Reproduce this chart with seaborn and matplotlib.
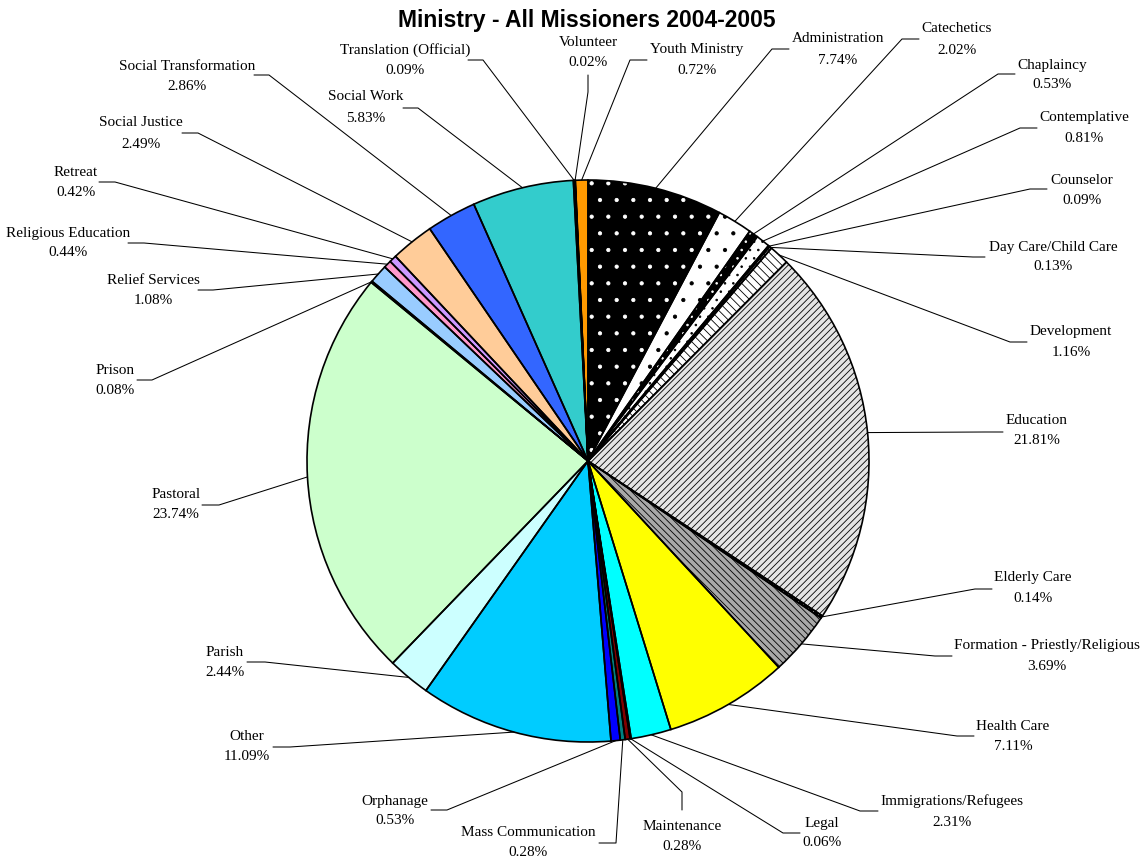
import seaborn as sns
import matplotlib
matplotlib.use("Agg")
import matplotlib.pyplot as plt
import numpy as np

# ministry categories and their share of all missioners (%)
categories = [
    "Administration", "Catechetics", "Chaplaincy", "Contemplative", "Counselor",
    "Day Care/Child Care", "Development", "Education", "Elderly Care",
    "Formation - Priestly/Religious", "Health Care", "Immigrations/Refugees",
    "Legal", "Maintenance", "Mass Communication", "Orphanage", "Other", "Parish",
    "Pastoral", "Prison", "Relief Services", "Religious Education", "Retreat",
    "Social Justice", "Social Transformation", "Social Work",
    "Translation (Official)", "Volunteer", "Youth Ministry",
]
shares = [
    7.74, 2.02, 0.53, 0.81, 0.09, 0.13, 1.16, 21.81, 0.14, 3.69, 7.11, 2.31,
    0.06, 0.28, 0.28, 0.53, 11.09, 2.44, 23.74, 0.08, 1.08, 0.44, 0.42, 2.49,
    2.86, 5.83, 0.09, 0.02, 0.72,
]
pct_labels = ["%.2f%%" % v for v in shares]

# fill styles (excel-like patterns for the first ten, palette colours after)
face_colors = [
    "black", "white", "black", "white", "white", "white", "white", "#e4e4e4",
    "black", "#a8a8a8", "#FFFF00", "#00FFFF", "#800080", "#800000", "#008080",
    "#0000FF", "#00CCFF", "#CCFFFF", "#CCFFCC", "#FFFF99", "#99CCFF",
    "#FF99CC", "#CC99FF", "#FFCC99", "#3366FF", "#33CCCC", "#99CC00",
    "#FFCC00", "#FF9900",
]
hatches = [".", ".", "..", "..", "....", "||||", "\\\\\\\\", "/////", "////", "\\\\\\\\\\"] + [None] * 19
hatch_colors = ["white", "black", "white", "black", "black", "black", "black",
                "black", "white", "black"] + ["none"] * 19

# label layout in pixels: (x, y of name line, y of percent line)
label_pos = [
    (838, 39, 60), (957, 29, 50), (1052, 65, 85), (1084, 118, 138),
    (1082, 180, 200), (1053, 247, 267), (1071, 332, 352), (1037, 420, 440),
    (1033, 578, 599), (1047, 645, 666), (1013, 726, 746), (952, 801, 822),
    (822, 823, 843), (682, 826, 846), (528, 833, 853), (395, 801, 820),
    (247, 737, 757), (225, 652, 672), (176, 495, 515), (115, 370, 390),
    (153, 280, 301), (68, 233, 253), (76, 172, 192), (141, 123, 144),
    (187, 66, 86), (366, 97, 118), (405, 50, 71), (588, 42, 62), (697, 50, 70),
]
# leader elbow in pixels: (x0, y0) near the pie -> (x1, y1) at the label
elbows = [
    (772, 49, 789, 49), (902, 39, 919, 39), (998, 74, 1015, 74),
    (1020, 128, 1037, 128), (1030, 189, 1047, 189), (973, 257, 985, 257),
    (1010, 342, 1027, 342), (985, 432, 1003, 432), (975, 589, 992, 589),
    (935, 656, 952, 656), (957, 736, 974, 736), (860, 811, 878, 811),
    (783, 833, 800, 833), (682, 792, 682, 810), (616, 843, 599, 843),
    (447, 810, 431, 810), (290, 747, 273, 747), (265, 662, 247, 662),
    (219, 505, 202, 505), (152, 380, 137, 380), (213, 290, 198, 290),
    (144, 243, 128, 243), (115, 182, 99, 182), (198, 133, 182, 133),
    (269, 75, 254, 75), (418, 108, 403, 108), (483, 60, 468, 60),
    (588, 92, 588, 75), (630, 60, 647, 60),
]

W, H = 1144, 859
pie_center = (588, H - 461)
pie_radius = 281

sns.set_theme(style="white")
plt.rcParams["font.family"] = ["Liberation Serif", "DejaVu Serif"]
plt.rcParams["text.color"] = "black"
plt.rcParams["hatch.linewidth"] = 0.6

fig = plt.figure(figsize=(W / 100, H / 100), dpi=100)
ax = fig.add_axes([0, 0, 1, 1])

# fill + hatch layer
wedges, _ = ax.pie(shares, colors=face_colors, startangle=90, counterclock=False,
                   center=pie_center, radius=pie_radius,
                   wedgeprops=dict(linewidth=0))
for w, h, hc in zip(wedges, hatches, hatch_colors):
    w.set_edgecolor(hc)
    if h:
        w.set_hatch(h)

# outline layer
ax.pie(shares, startangle=90, counterclock=False, center=pie_center,
       radius=pie_radius,
       wedgeprops=dict(fill=False, edgecolor="black", linewidth=1.2))

# labels with leader lines
for i, w in enumerate(wedges):
    mid = np.deg2rad((w.theta1 + w.theta2) / 2)
    ax_x = pie_center[0] + pie_radius * np.cos(mid)
    ax_y = pie_center[1] + pie_radius * np.sin(mid)
    x0, y0, x1, y1 = elbows[i]
    ax.plot([ax_x, x0, x1], [ax_y, H - y0, H - y1], color="black", lw=0.75)
    lx, ny, py = label_pos[i]
    ax.text(lx, H - ny, categories[i], ha="center", va="center", fontsize=11)
    ax.text(lx, H - py, pct_labels[i], ha="center", va="center", fontsize=11)

ax.text(587, H - 21, "Ministry - All Missioners 2004-2005", ha="center", va="center",
        fontsize=16.5, fontweight="bold", color="black",
        family=["Liberation Sans", "DejaVu Sans"])

ax.set_xlim(0, W)
ax.set_ylim(0, H)
ax.set_aspect("equal", adjustable="box")
ax.axis("off")

plt.savefig("out.png", dpi=100, facecolor="white")
